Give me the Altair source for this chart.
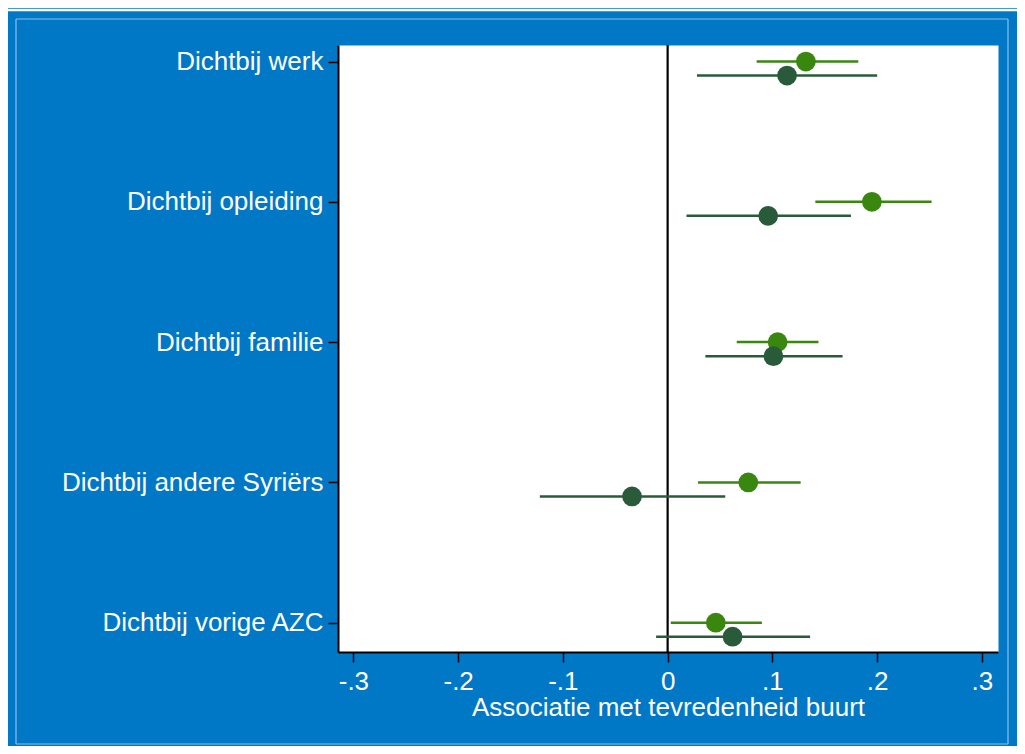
import json
import altair as alt
import pandas as pd

categories = ["Dichtbij werk", "Dichtbij opleiding", "Dichtbij familie",
              "Dichtbij andere Syriërs", "Dichtbij vorige AZC"]
series = ["A", "B"]

a_est = [0.132, 0.195, 0.105, 0.077, 0.046]
a_lo = [0.085, 0.141, 0.066, 0.029, 0.003]
a_hi = [0.182, 0.252, 0.144, 0.127, 0.090]

b_est = [0.114, 0.096, 0.101, -0.034, 0.062]
b_lo = [0.028, 0.018, 0.036, -0.122, -0.011]
b_hi = [0.200, 0.175, 0.167, 0.055, 0.136]

x_ticks = [-0.3, -0.2, -0.1, 0, 0.1, 0.2, 0.3]

rows = []
for s, est, lo, hi, off in [("A", a_est, a_lo, a_hi, 0.0), ("B", b_est, b_lo, b_hi, 0.1)]:
    for i, c in enumerate(categories):
        rows.append({"cat": c, "series": s, "pos": i + 1 + off,
                     "est": est[i], "lo": lo[i], "hi": hi[i]})
df = pd.DataFrame(rows)

FONT = "Liberation Sans"
FS = 26

xscale = alt.Scale(domain=[-0.3147, 0.3154], nice=False, zero=False)
yscale = alt.Scale(domain=[0.882, 5.209], reverse=True, nice=False, zero=False)
color = alt.Color("series:N", scale=alt.Scale(domain=series, range=["#3a870f", "#295b3b"]), legend=None)

label_expr = json.dumps(categories) + "[round(datum.value) - 1]"
x_label_expr = ("datum.value == 0 ? '0' : (datum.value < 0 ? '-' : '') + "
                "replace(format(abs(datum.value), '.1f'), '0.', '.')")

xaxis = alt.Axis(values=x_ticks, grid=False, domainColor="black", domainWidth=2,
                 tickColor="black", tickWidth=1.5, tickSize=10,
                 labelColor="white", labelFont=FONT, labelFontSize=FS, labelPadding=6,
                 labelExpr=x_label_expr, labelOverlap=False,
                 title="Associatie met tevredenheid buurt", titleColor="white",
                 titleFont=FONT, titleFontSize=FS, titleFontWeight="normal", titlePadding=0)
yaxis = alt.Axis(values=[1, 2, 3, 4, 5], grid=False, domainColor="black", domainWidth=2,
                 tickColor="black", tickWidth=1.5, tickSize=10,
                 labelColor="white", labelFont=FONT, labelFontSize=FS, labelPadding=5,
                 labelLimit=0, labelExpr=label_expr, title=None)

base = alt.Chart(df)
ci = base.mark_rule(strokeWidth=2.5).encode(
    x=alt.X("lo:Q", scale=xscale, axis=xaxis),
    x2="hi:Q",
    y=alt.Y("pos:Q", scale=yscale, axis=yaxis),
    color=color,
)
pts = base.mark_circle(size=390, opacity=1).encode(
    x=alt.X("est:Q", scale=xscale),
    y=alt.Y("pos:Q", scale=yscale),
    color=color,
)
zero = alt.Chart(pd.DataFrame({"x": [0]})).mark_rule(color="black", strokeWidth=2.2).encode(
    x=alt.X("x:Q", scale=xscale)
)

deco = pd.DataFrame({"d": [0]})
outer_top = alt.Chart(deco).mark_rule(color="white", strokeWidth=2.5).encode(
    x=alt.value(-330), x2=alt.value(680), y=alt.value(-35))
inner_top = alt.Chart(deco).mark_rule(color="#8cc0e8", strokeWidth=1.2).encode(
    x=alt.value(-322), x2=alt.value(670), y=alt.value(-26))
inner_left = alt.Chart(deco).mark_rule(color="#8cc0e8", strokeWidth=1.2).encode(
    x=alt.value(-322), y=alt.value(-26), y2=alt.value(699))
inner_right = alt.Chart(deco).mark_rule(color="#8cc0e8", strokeWidth=1.2).encode(
    x=alt.value(670), y=alt.value(-26), y2=alt.value(699))
inner_bottom = alt.Chart(deco).mark_rule(color="#8cc0e8", strokeWidth=1.2).encode(
    x=alt.value(-322), x2=alt.value(670), y=alt.value(699))

chart = alt.layer(zero, ci, pts, outer_top, inner_top, inner_left, inner_right, inner_bottom).properties(
    width=660, height=607,
    autosize=alt.AutoSizeParams(type="none"),
    padding={"left": 330, "top": 37, "right": 19, "bottom": 94},
    background="#0078c6",
).configure_view(fill="white", stroke="transparent")

chart.save("out.html", embed_options={"renderer": "svg", "actions": False})
